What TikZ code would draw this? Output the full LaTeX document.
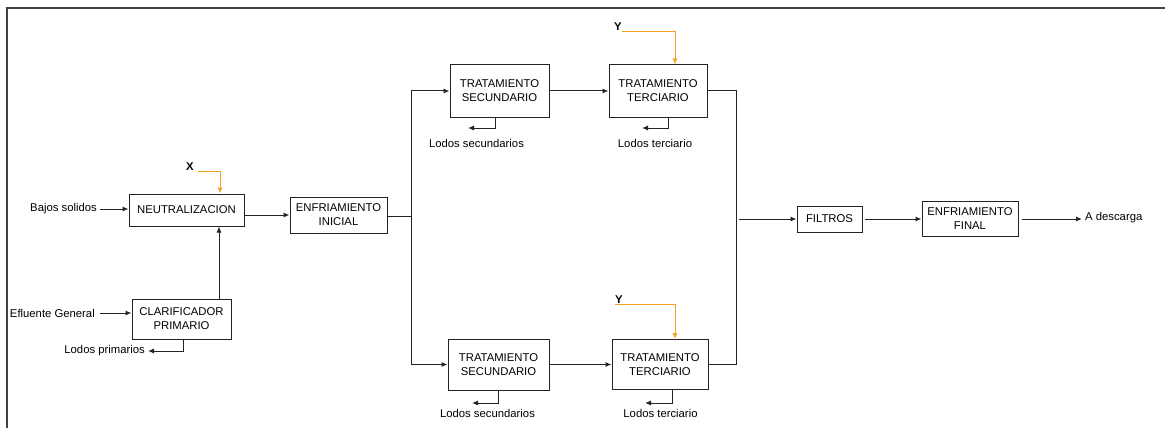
\documentclass[tikz,border=0pt]{standalone}
\usepackage{fontspec}
\setmainfont{Liberation Sans}
\usetikzlibrary{arrows.meta,calc}
\definecolor{orangeln}{RGB}{247,160,35}
\definecolor{lineg}{RGB}{35,35,35}
\tikzset{
  every node/.style={font=\fontsize{11.3}{14}\selectfont},
  procbox/.style={draw=lineg, line width=1pt, align=center, inner sep=0pt},
  lbl/.style={inner sep=0pt},
  arr/.style={draw=lineg, line width=1pt, -{Latex[length=6pt,width=5pt]}},
  ln/.style={draw=lineg, line width=1pt},
  oarr/.style={draw=orangeln, line width=1pt, -{Latex[length=6pt,width=5pt]}},
}
\begin{document}
\begin{tikzpicture}[x=1pt,y=-1pt]
\useasboundingbox (0,0) rectangle (1165,428);
% frame
\draw[line width=1.6pt, draw=black!75] (7,428) -- (7,8) -- (1165,8);

% boxes
\node[procbox, minimum width=115pt, minimum height=32pt] (neut) at (186.5,210) {NEUTRALIZACION};
\node[procbox, minimum width=97pt, minimum height=36pt] (enfi) at (338.5,215) {ENFRIAMIENTO\\INICIAL};
\node[procbox, minimum width=99pt, minimum height=40pt] (clar) at (181.5,319) {CLARIFICADOR\\PRIMARIO};
\node[procbox, minimum width=99pt, minimum height=52pt] (sec1) at (499.5,91) {TRATAMIENTO\\SECUNDARIO};
\node[procbox, minimum width=98pt, minimum height=52pt] (ter1) at (658,91) {TRATAMIENTO\\TERCIARIO};
\node[procbox, minimum width=101pt, minimum height=51pt] (sec2) at (498.5,364.5) {TRATAMIENTO\\SECUNDARIO};
\node[procbox, minimum width=96pt, minimum height=50pt] (ter2) at (660,364.5) {TRATAMIENTO\\TERCIARIO};
\node[procbox, minimum width=65pt, minimum height=26pt] (filt) at (829.5,219) {FILTROS};
\node[procbox, minimum width=96pt, minimum height=35pt] (enff) at (970,219) {ENFRIAMIENTO\\FINAL};

% labels
\node[lbl, anchor=east] (bajos) at (97,209) {Bajos solidos};
\node[lbl, anchor=east] (eflu) at (95,313) {Efluente General};
\node[lbl, anchor=east] (lprim) at (145,351) {Lodos primarios};
\node[lbl] (lsec1) at (476.5,143) {Lodos secundarios};
\node[lbl] (lter1) at (655,143) {Lodos terciario};
\node[lbl] (lsec2) at (487.5,413) {Lodos secundarios};
\node[lbl] (lter2) at (660.5,413) {Lodos terciario};
\node[lbl, anchor=west] (desc) at (1085,218) {A descarga};
\node[lbl, font=\fontsize{11.3}{14}\selectfont\bfseries] (xl) at (190,167) {X};
\node[lbl, font=\fontsize{11.3}{14}\selectfont\bfseries] (y1) at (618,27) {Y};
\node[lbl, font=\fontsize{11.3}{14}\selectfont\bfseries] (y2) at (619,300) {Y};

% coordinates
\coordinate (split) at (411,216);
\coordinate (merge) at (736,219);
\coordinate (ls1e) at (468,128);
\coordinate (lt1e) at (642,128);
\coordinate (ls2e) at (472,403);
\coordinate (lt2e) at (645,403);

% connectors
\draw[arr] (bajos.east) ++(3,0) -- (neut.west |- bajos.east);
\draw[arr] (eflu.east) ++(5,0) -- (clar.west |- eflu.east);
\draw[arr] (clar.north -| 219,0) -- (neut.south -| 219,0);
\draw[arr] (clar.south -| 183,0) |- ([xshift=3pt]lprim.east);
\draw[arr] (neut.east |- enfi.west) -- (enfi.west);
\draw[ln] (enfi.east |- split) -- (split);
\draw[arr] (split) |- (sec1.west);
\draw[arr] (split) |- (sec2.west);
\draw[arr] (sec1.east) -- (sec1.east -| ter1.west);
\draw[arr] (sec2.east) -- (sec2.east -| ter2.west);
\draw[ln] (ter1.east) -| (merge);
\draw[ln] (ter2.east) -| (merge);
\draw[arr] ([xshift=3pt]merge) -- (filt.west);
\draw[arr] ([xshift=2pt]filt.east) -- (enff.west);
\draw[arr] ([xshift=3pt]enff.east) -- ([xshift=-3pt]desc.west |- enff.east);
\draw[arr] (sec1.south -| 495,0) |- (ls1e);
\draw[arr] (ter1.south -| 668,0) |- (lt1e);
\draw[arr] (sec2.south -| 498,0) |- (ls2e);
\draw[arr] (ter2.south -| 672,0) |- (lt2e);

% orange inputs
\draw[oarr] ([xshift=4pt]xl.south east) -| (neut.north -| 220,0);
\draw[oarr] (y1.south east) -| (ter1.north -| 675,0);
\draw[oarr] (y2.south west) -| (ter2.north -| 675,0);
\end{tikzpicture}
\end{document}
